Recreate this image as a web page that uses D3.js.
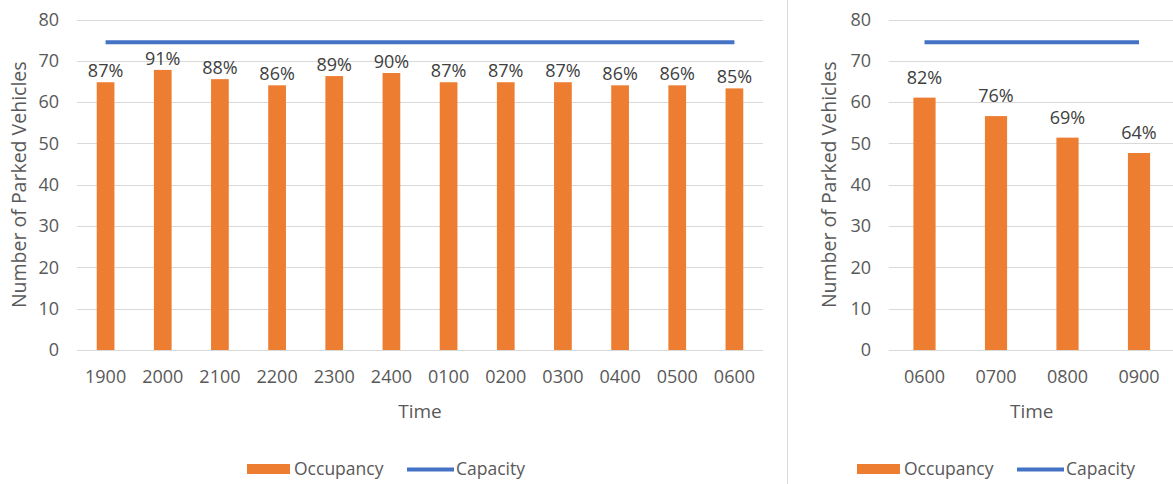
<!DOCTYPE html>
<html>
<head>
<meta charset="utf-8">
<script src="https://cdn.jsdelivr.net/npm/d3@7"></script>
<style>
  html, body { margin: 0; padding: 0; background: #fff; }
  svg { display: block; font-family: "Open Sans", "Noto Sans", sans-serif; }
</style>
</head>
<body>
<svg id="chart" width="1173" height="484"></svg>
<script>
// Overnight parking survey (hourly counts, 1900 to 0600)
const nightTimes = ["1900", "2000", "2100", "2200", "2300", "2400", "0100", "0200", "0300", "0400", "0500", "0600"];
const nightPct = [87, 91, 88, 86, 89, 90, 87, 87, 87, 86, 86, 85];

// Morning parking survey (0600 to 0900)
const morningTimes = ["0600", "0700", "0800", "0900"];
const morningPct = [82, 76, 69, 64];

// Total number of parking spaces
const capacity = 74.5;

const yTicks = [0, 10, 20, 30, 40, 50, 60, 70, 80];
const seriesNames = ["Occupancy", "Capacity"];

const ORANGE = "#ED7D31";
const BLUE = "#4472C4";
const GRID = "#d9d9d9";
const TEXT = "#595959";
const LABEL = "#404040";

const svg = d3.select("#chart");

function drawPanel(cfg) {
  const g = svg.append("g");
  const values = cfg.pct.map(p => capacity * p / 100);

  const y = d3.scaleLinear().domain([0, 80]).range([350, 19.5]);
  const x = d3.scaleBand()
    .domain(cfg.times)
    .range([cfg.x0, cfg.x1])
    .paddingInner(0.69)
    .paddingOuter(0.345);

  // horizontal gridlines
  g.append("g").selectAll("line").data(yTicks).join("line")
    .attr("x1", cfg.x0).attr("x2", cfg.x1)
    .attr("y1", d => Math.round(y(d)) + 0.5).attr("y2", d => Math.round(y(d)) + 0.5)
    .attr("stroke", GRID).attr("stroke-width", 1);

  // y axis labels
  const yAxis = g.append("g")
    .attr("transform", `translate(${cfg.yLabelX},0)`)
    .call(d3.axisLeft(y).tickValues(yTicks).tickSize(0).tickPadding(0));
  yAxis.select(".domain").remove();
  yAxis.selectAll("text")
    .attr("fill", TEXT).attr("font-size", 18)
    .attr("font-family", "'Open Sans', sans-serif");

  // x axis labels
  const xAxis = g.append("g")
    .attr("transform", "translate(0,350)")
    .call(d3.axisBottom(x).tickSize(0).tickPadding(20));
  xAxis.select(".domain").remove();
  xAxis.selectAll("text")
    .attr("fill", TEXT).attr("font-size", 18)
    .attr("font-family", "'Open Sans', sans-serif");

  // occupancy bars
  g.append("g").selectAll("rect").data(values).join("rect")
    .attr("x", (d, i) => x(cfg.times[i]))
    .attr("width", x.bandwidth())
    .attr("y", d => y(d))
    .attr("height", d => y(0) - y(d))
    .attr("fill", ORANGE);

  // percentage labels
  g.append("g").selectAll("text").data(values).join("text")
    .attr("x", (d, i) => x(cfg.times[i]) + x.bandwidth() / 2)
    .attr("y", d => y(d) - cfg.labelGap)
    .attr("text-anchor", "middle")
    .attr("fill", LABEL).attr("font-size", 18)
    .text((d, i) => cfg.pct[i] + "%");

  // capacity line
  const first = cfg.times[0], last = cfg.times[cfg.times.length - 1];
  g.append("line")
    .attr("x1", x(first) + x.bandwidth() / 2)
    .attr("x2", x(last) + x.bandwidth() / 2)
    .attr("y1", y(capacity)).attr("y2", y(capacity))
    .attr("stroke", BLUE).attr("stroke-width", 4);

  // axis titles
  g.append("text")
    .attr("transform", `translate(${cfg.titleX},${(y(0) + y(80)) / 2}) rotate(-90)`)
    .attr("text-anchor", "middle").attr("dy", "0.35em")
    .attr("fill", TEXT).attr("font-size", 19.5)
    .text("Number of Parked Vehicles");

  g.append("text")
    .attr("x", (cfg.x0 + cfg.x1) / 2).attr("y", 418)
    .attr("text-anchor", "middle")
    .attr("fill", TEXT).attr("font-size", 19)
    .text("Time");

  // legend
  const lg = g.append("g").attr("transform", `translate(${cfg.legendX},0)`);
  lg.append("rect").attr("x", 0).attr("y", 464).attr("width", 43).attr("height", 10).attr("fill", ORANGE);
  lg.append("text").attr("x", 47).attr("y", 475).attr("fill", TEXT).attr("font-size", 17.5).text(seriesNames[0]);
  lg.append("line").attr("x1", 160).attr("x2", 207).attr("y1", 469.5).attr("y2", 469.5)
    .attr("stroke", BLUE).attr("stroke-width", 4);
  lg.append("text").attr("x", 209).attr("y", 475).attr("fill", TEXT).attr("font-size", 17.5).text(seriesNames[1]);
}

drawPanel({
  times: nightTimes, pct: nightPct,
  x0: 77, x1: 763, yLabelX: 59, titleX: 19, labelGap: 5, legendX: 247
});

drawPanel({
  times: morningTimes, pct: morningPct,
  x0: 888.75, x1: 1174.75, yLabelX: 871, titleX: 829, labelGap: 14, legendX: 857
});

// separator between the two panels
svg.append("line")
  .attr("x1", 787.5).attr("x2", 787.5).attr("y1", 0).attr("y2", 484)
  .attr("stroke", GRID).attr("stroke-width", 1);
</script>
</body>
</html>
